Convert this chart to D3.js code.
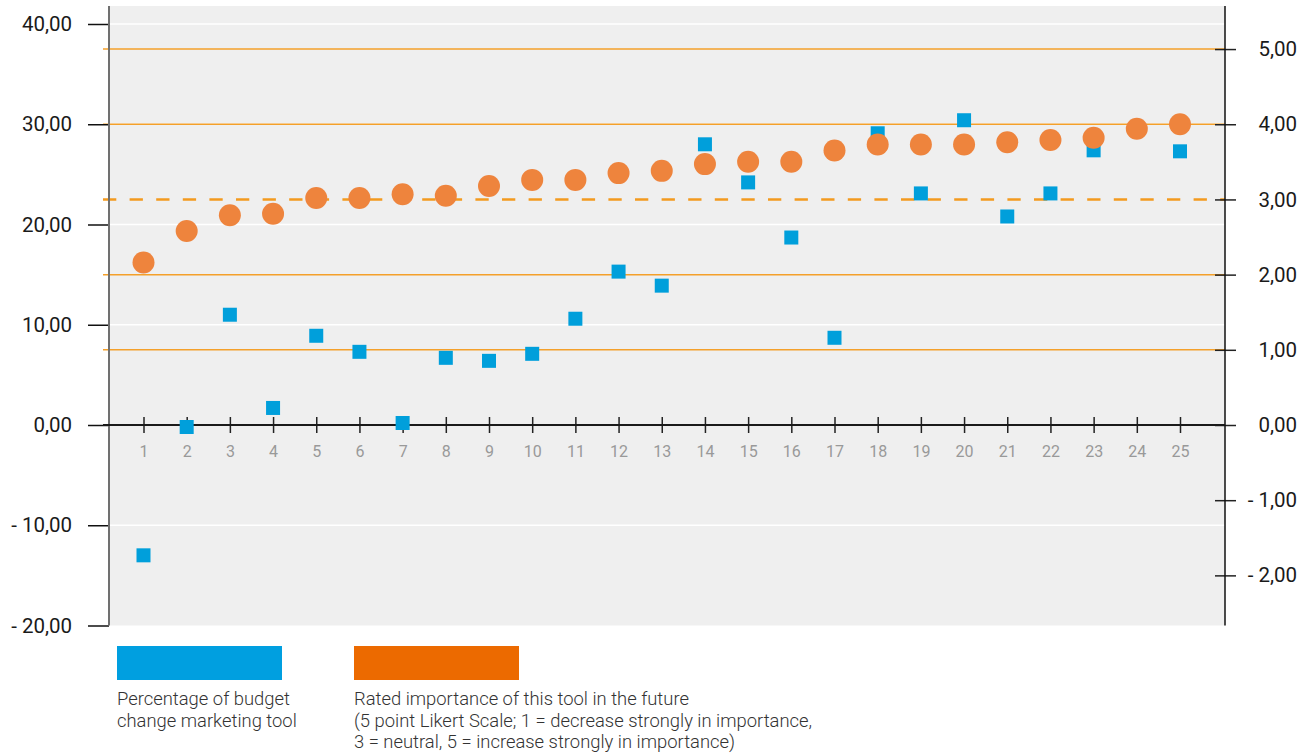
<!DOCTYPE html>
<html>
<head>
<meta charset="utf-8">
<script src="https://cdn.jsdelivr.net/npm/d3@7"></script>
<style>
  html, body { margin: 0; padding: 0; background: #ffffff; }
  svg { display: block; font-family: Roboto, "Noto Sans", sans-serif; }
</style>
</head>
<body>
<svg id="chart" width="1312" height="756"></svg>
<script>
// Marketing tools, numbered 1..25
const categories = d3.range(1, 26);

// Percentage of budget change per marketing tool (left axis)
const budgetChange = [
  -13.0, -0.2, 11.0, 1.7, 8.9, 7.3, 0.2, 6.7, 6.4, 7.1,
  10.6, 15.3, 13.9, 28.0, 24.2, 18.7, 8.7, 29.1, 23.1, 30.4,
  20.8, 23.1, 27.4, 29.5, 27.3
];

// Rated future importance, 5 point Likert scale (right axis)
const importance = [
  2.16, 2.58, 2.79, 2.81, 3.02, 3.02, 3.07, 3.05, 3.18, 3.26,
  3.26, 3.35, 3.38, 3.47, 3.50, 3.50, 3.65, 3.73, 3.73, 3.73,
  3.76, 3.79, 3.82, 3.94, 4.00
];

const leftTicks = [-20, -10, 0, 10, 20, 30, 40];
const rightTicks = [-2, -1, 0, 1, 2, 3, 4, 5];
const referenceSolid = [1, 2, 4, 5];
const referenceDashed = [3];

const legendItems = [
  { label: ["Percentage of budget", "change marketing tool"], color: "#009fe0" },
  { label: ["Rated importance of this tool in the future",
            "(5 point Likert Scale; 1 = decrease strongly in importance,",
            "3 = neutral, 5 = increase strongly in importance)"], color: "#ec6a00" }
];

const svg = d3.select("#chart");

const plot = { left: 109, right: 1225, top: 6, bottom: 625.5 };

const x = d3.scaleLinear().domain([1, 25]).range([143.5, 1180]);
const yL = d3.scaleLinear().domain([-20, 40]).range([625.5, 24]);
const yR = d3.scaleLinear().domain([-20 / 7.5, 40 / 7.5]).range([625.5, 24]);

const fmt = v => (v < 0 ? "- " : "") + Math.abs(v).toFixed(2).replace(".", ",");

// plot background
svg.append("rect")
  .attr("x", plot.left).attr("y", plot.top)
  .attr("width", plot.right - plot.left).attr("height", plot.bottom - plot.top)
  .attr("fill", "#efefef");

// white gridlines on the left scale
svg.append("g").selectAll("line")
  .data(leftTicks.filter(d => d !== 0 && d !== -20))
  .join("line")
  .attr("x1", plot.left).attr("x2", plot.right)
  .attr("y1", d => yL(d)).attr("y2", d => yL(d))
  .attr("stroke", "#ffffff").attr("stroke-width", 1.5);

// orange reference lines on the right scale
svg.append("g").selectAll("line")
  .data(referenceSolid)
  .join("line")
  .attr("x1", 103).attr("x2", plot.right)
  .attr("y1", d => yR(d)).attr("y2", d => yR(d))
  .attr("stroke", "#f4a02a").attr("stroke-width", 1.5);

svg.append("g").selectAll("line")
  .data(referenceDashed)
  .join("line")
  .attr("x1", 103).attr("x2", plot.right)
  .attr("y1", d => yR(d)).attr("y2", d => yR(d))
  .attr("stroke", "#f39a1f").attr("stroke-width", 2.5)
  .attr("stroke-dasharray", "13.3,13.3");

// left axis
const leftAxis = svg.append("g")
  .attr("transform", `translate(${plot.left},0)`)
  .call(d3.axisLeft(yL).tickValues(leftTicks).tickFormat(fmt).tickSize(21).tickPadding(16));
leftAxis.select(".domain").remove();
leftAxis.selectAll(".tick line").attr("stroke", "#111").attr("stroke-width", 1.5);
leftAxis.selectAll(".tick text")
  .attr("font-size", 20.5).attr("fill", "#1a1a1a").attr("font-family", "Roboto, sans-serif");
svg.append("line")
  .attr("x1", plot.left).attr("x2", plot.left)
  .attr("y1", plot.top).attr("y2", plot.bottom)
  .attr("stroke", "#707070").attr("stroke-width", 2);

// right axis
const rightAxis = svg.append("g")
  .attr("transform", `translate(${plot.right},0)`)
  .call(d3.axisRight(yR).tickValues(rightTicks).tickFormat(fmt).tickSizeInner(11).tickSizeOuter(0).tickPadding(0));
rightAxis.select(".domain").remove();
rightAxis.selectAll(".tick line")
  .attr("x1", -10).attr("x2", 11)
  .attr("stroke", "#222").attr("stroke-width", 1.5);
rightAxis.selectAll(".tick text")
  .attr("x", 72).attr("text-anchor", "end")
  .attr("font-size", 20.5).attr("fill", "#1a1a1a").attr("font-family", "Roboto, sans-serif");
svg.append("line")
  .attr("x1", plot.right).attr("x2", plot.right)
  .attr("y1", plot.top).attr("y2", plot.bottom)
  .attr("stroke", "#111").attr("stroke-width", 1.5);

// category axis at zero
const xAxis = svg.append("g")
  .attr("transform", `translate(0,${yL(0)})`)
  .call(d3.axisBottom(x).tickValues(categories).tickFormat(d3.format("d")).tickSize(8).tickPadding(13));
xAxis.select(".domain").remove();
xAxis.selectAll(".tick line")
  .attr("y1", -8).attr("y2", 8)
  .attr("stroke", "#222").attr("stroke-width", 1.5);
xAxis.selectAll(".tick text")
  .attr("font-size", 16).attr("fill", "#999").attr("font-family", "Roboto, sans-serif");
svg.append("line")
  .attr("x1", 103).attr("x2", plot.right)
  .attr("y1", yL(0)).attr("y2", yL(0))
  .attr("stroke", "#1a1a1a").attr("stroke-width", 2);

// budget change squares
const sq = 14;
svg.append("g").selectAll("rect")
  .data(categories.map((c, i) => ({ c, v: budgetChange[i] })))
  .join("rect")
  .attr("x", d => x(d.c) - sq / 2).attr("y", d => yL(d.v) - sq / 2)
  .attr("width", sq).attr("height", sq)
  .attr("fill", "#009fdb");

// importance circles
svg.append("g").selectAll("circle")
  .data(categories.map((c, i) => ({ c, v: importance[i] })))
  .join("circle")
  .attr("cx", d => x(d.c)).attr("cy", d => yR(d.v))
  .attr("r", 11)
  .attr("fill", "#ee843d");

// legend
const legendX = [117, 354];
const legend = svg.append("g");
legendItems.forEach((item, i) => {
  legend.append("rect")
    .attr("x", legendX[i]).attr("y", 646)
    .attr("width", 165).attr("height", 34)
    .attr("fill", item.color);
  legend.append("text")
    .attr("x", legendX[i]).attr("y", 705)
    .attr("font-size", 18.4).attr("font-weight", 300).attr("fill", "#333")
    .selectAll("tspan")
    .data(item.label)
    .join("tspan")
    .attr("x", legendX[i]).attr("dy", (d, j) => j === 0 ? 0 : 21.7)
    .text(d => d);
});
</script>
</body>
</html>
